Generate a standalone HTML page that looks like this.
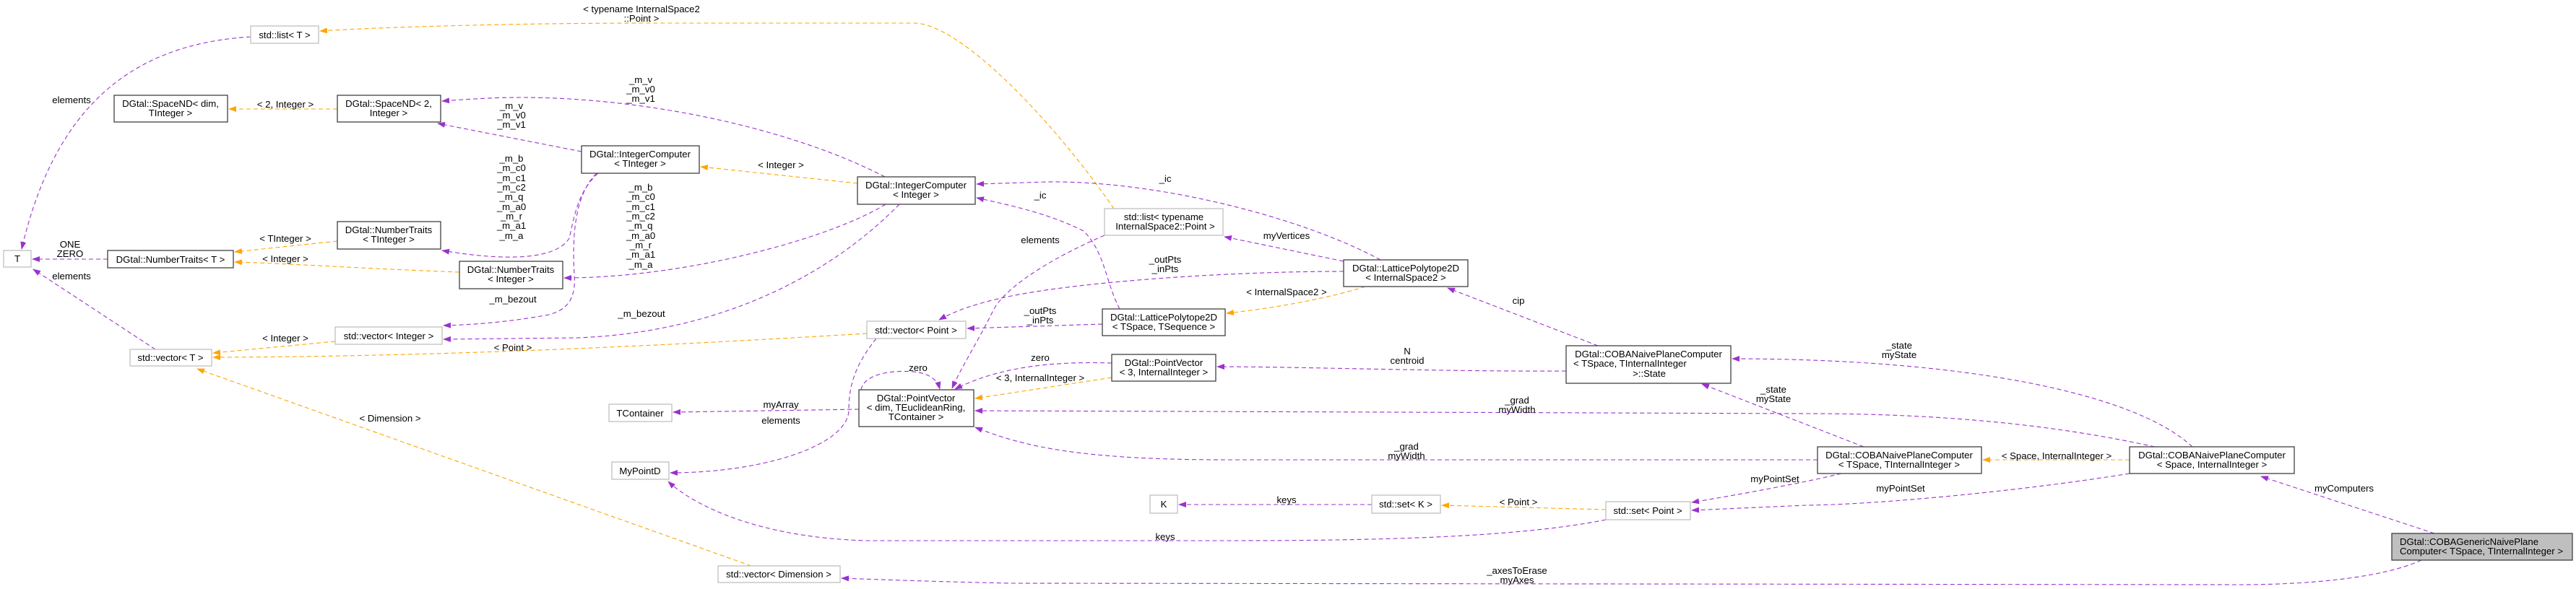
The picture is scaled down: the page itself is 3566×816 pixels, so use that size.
<!DOCTYPE html>
<html><head><meta charset="utf-8"><style>
html,body{margin:0;padding:0;background:#fff;}
svg{display:block;}
text{font-family:"Liberation Sans",Arial,sans-serif;font-size:13.2px;fill:#000;}
.nb{fill:#fff;stroke:#404040;stroke-width:1.3;}
.ng{fill:#fff;stroke:#bfbfbf;stroke-width:1.3;}
.p{fill:none;stroke:#9a32cd;stroke-width:1.1;stroke-dasharray:6,4;}
.o{fill:none;stroke:#ffa500;stroke-width:1.1;stroke-dasharray:6,4;}
</style></head><body>
<svg width="3566" height="816" viewBox="0 0 3566 816" xmlns="http://www.w3.org/2000/svg">
<defs>
<marker id="ap" markerWidth="11" markerHeight="8" refX="10" refY="4" orient="auto" markerUnits="userSpaceOnUse"><path d="M0,0 L11,4 L0,8 z" fill="#9a32cd"/></marker>
<marker id="ao" markerWidth="11" markerHeight="8" refX="10" refY="4" orient="auto" markerUnits="userSpaceOnUse"><path d="M0,0 L11,4 L0,8 z" fill="#ffa500"/></marker>
</defs>

<!-- orange edges -->
<g marker-end="url(#ao)">
<path class="o" d="M1542,289 C1460,170 1330,32 1265,32 L900,32 C700,32 520,38 443,43"/>
<path class="o" d="M467,151 L317,151"/>
<path class="o" d="M467,334 L325,349"/>
<path class="o" d="M636,377 C500,372 400,365 325,363"/>
<path class="o" d="M1187,254 L970,231"/>
<path class="o" d="M464,473 L295,489"/>
<path class="o" d="M1200,462 C900,480 600,494 295,495"/>
<path class="o" d="M1040,784 L273,511"/>
<path class="o" d="M1890,397 C1850,410 1780,425 1698,434"/>
<path class="o" d="M1539,523 L1350,552"/>
<path class="o" d="M2223,706 L1996,700"/>
<path class="o" d="M2948,637 L2745,637"/>
</g>

<!-- purple edges -->
<g marker-end="url(#ap)">
<path class="p" d="M347,51 C200,60 80,130 30,345"/>
<path class="p" d="M215,484 L46,373"/>
<path class="p" d="M149,359 L45,359"/>
<path class="p" d="M805,210 L606,171"/>
<path class="p" d="M1225,245 C1100,180 900,135 720,135 C680,135 640,138 612,140"/>
<path class="p" d="M828,240 C800,265 795,300 788,330 C770,360 700,362 612,347"/>
<path class="p" d="M1226,283 C1150,330 950,385 781,385"/>
<path class="p" d="M826,240 C795,270 792,330 795,380 C798,420 780,430 760,436 C700,447 650,450 614,451"/>
<path class="p" d="M1245,283 C1150,380 1000,460 800,468 L614,470"/>
<path class="p" d="M1529,326 C1450,360 1390,400 1375,430 C1350,480 1330,510 1318,538"/>
<path class="p" d="M1860,376 C1700,376 1500,390 1400,410 C1350,420 1320,432 1300,443"/>
<path class="p" d="M1526,449 L1339,455"/>
<path class="p" d="M1550,428 C1530,390 1530,350 1500,320 C1450,295 1400,285 1352,274"/>
<path class="p" d="M1911,360 C1800,300 1600,250 1450,252 L1352,255"/>
<path class="p" d="M1860,362 L1695,328"/>
<path class="p" d="M1213,469 C1180,510 1175,540 1175,570 C1170,620 1050,655 928,655"/>
<path class="p" d="M1189,567 L932,571"/>
<path class="p" d="M1192,540 C1195,520 1230,512 1265,515 C1290,518 1298,528 1301,539"/>
<path class="p" d="M1539,503 C1450,500 1380,510 1322,539"/>
<path class="p" d="M2168,514 C2000,515 1800,508 1685,508"/>
<path class="p" d="M2212,479 L2004,399"/>
<path class="p" d="M2580,619 L2356,532"/>
<path class="p" d="M3035,619 C2950,540 2700,497 2398,497"/>
<path class="p" d="M2983,619 C2850,590 2700,573 2500,573 L1350,569"/>
<path class="p" d="M2516,637 L1700,637 C1500,637 1420,620 1350,592"/>
<path class="p" d="M2549,656 C2500,668 2420,683 2342,696"/>
<path class="p" d="M2948,656 C2800,680 2600,699 2500,700 L2342,707"/>
<path class="p" d="M2223,720 C2100,745 1900,749 1700,749 L1200,749 C1050,745 960,700 925,667"/>
<path class="p" d="M1899,699 L1632,699"/>
<path class="p" d="M3370,739 L3130,660"/>
<path class="p" d="M3352,776 C3300,800 3200,810 3100,810 L1400,808 C1300,806 1220,803 1165,801"/>
</g>

<!-- edge labels -->
<g text-anchor="middle">
<text x="888" y="17">&lt; typename InternalSpace2</text><text x="888" y="30">::Point &gt;</text>
<text x="99" y="143">elements</text>
<text x="395" y="149">&lt; 2, Integer &gt;</text>
<text x="97" y="343">ONE</text><text x="97" y="356">ZERO</text>
<text x="99" y="387">elements</text>
<text x="395" y="335">&lt; TInteger &gt;</text>
<text x="395" y="363">&lt; Integer &gt;</text>
<text x="887" y="115">_m_v</text><text x="887" y="128">_m_v0</text><text x="887" y="141">_m_v1</text>
<text x="708" y="151">_m_v</text><text x="708" y="164">_m_v0</text><text x="708" y="177">_m_v1</text>
<text x="708" y="224">_m_b</text><text x="708" y="237">_m_c0</text><text x="708" y="251">_m_c1</text><text x="708" y="264">_m_c2</text><text x="708" y="277">_m_q</text><text x="708" y="291">_m_a0</text><text x="708" y="304">_m_r</text><text x="708" y="317">_m_a1</text><text x="708" y="331">_m_a</text>
<text x="887" y="264">_m_b</text><text x="887" y="277">_m_c0</text><text x="887" y="291">_m_c1</text><text x="887" y="304">_m_c2</text><text x="887" y="317">_m_q</text><text x="887" y="331">_m_a0</text><text x="887" y="344">_m_r</text><text x="887" y="357">_m_a1</text><text x="887" y="371">_m_a</text>
<text x="1081" y="233">&lt; Integer &gt;</text>
<text x="710" y="419">_m_bezout</text>
<text x="888" y="439">_m_bezout</text>
<text x="395" y="473">&lt; Integer &gt;</text>
<text x="710" y="486">&lt; Point &gt;</text>
<text x="540" y="584">&lt; Dimension &gt;</text>
<text x="1081" y="565">myArray</text>
<text x="1081" y="587">elements</text>
<text x="1613" y="252">_ic</text>
<text x="1440" y="275">_ic</text>
<text x="1440" y="337">elements</text>
<text x="1781" y="331">myVertices</text>
<text x="1613" y="364">_outPts</text><text x="1613" y="377">_inPts</text>
<text x="1781" y="409">&lt; InternalSpace2 &gt;</text>
<text x="1440" y="435">_outPts</text><text x="1440" y="448">_inPts</text>
<text x="1440" y="500">zero</text>
<text x="1271" y="514">zero</text>
<text x="1440" y="528">&lt; 3, InternalInteger &gt;</text>
<text x="1781" y="697">keys</text>
<text x="1613" y="748">keys</text>
<text x="2102" y="421">cip</text>
<text x="1948" y="491">N</text><text x="1948" y="504">centroid</text>
<text x="2100" y="559">_grad</text><text x="2100" y="572">myWidth</text>
<text x="2455" y="544">_state</text><text x="2455" y="557">myState</text>
<text x="1947" y="623">_grad</text><text x="1947" y="636">myWidth</text>
<text x="2102" y="700">&lt; Point &gt;</text>
<text x="2457" y="668">myPointSet</text>
<text x="2100" y="795">_axesToErase</text><text x="2100" y="808">myAxes</text>
<text x="2629" y="483">_state</text><text x="2629" y="496">myState</text>
<text x="2847" y="636">&lt; Space, InternalInteger &gt;</text>
<text x="2631" y="681">myPointSet</text>
<text x="3245" y="681">myComputers</text>
</g>

<!-- nodes -->
<g text-anchor="middle">
<rect class="ng" x="347" y="36" width="94" height="24"/><text x="394" y="53">std::list&lt; T &gt;</text>
<rect class="nb" x="158" y="132" width="157" height="37"/><text x="236" y="148">DGtal::SpaceND&lt; dim,</text><text x="236" y="161">TInteger &gt;</text>
<rect class="nb" x="467" y="132" width="143" height="37"/><text x="538" y="148">DGtal::SpaceND&lt; 2,</text><text x="538" y="161">Integer &gt;</text>
<rect class="nb" x="805" y="202" width="163" height="38"/><text x="886" y="218">DGtal::IntegerComputer</text><text x="886" y="231">&lt; TInteger &gt;</text>
<rect class="nb" x="467" y="307" width="143" height="38"/><text x="538" y="323">DGtal::NumberTraits</text><text x="538" y="336">&lt; TInteger &gt;</text>
<rect class="ng" x="5" y="347" width="38" height="23"/><text x="24" y="363">T</text>
<rect class="nb" x="149" y="347" width="174" height="24"/><text x="236" y="364">DGtal::NumberTraits&lt; T &gt;</text>
<rect class="nb" x="636" y="362" width="143" height="38"/><text x="707" y="378">DGtal::NumberTraits</text><text x="707" y="391">&lt; Integer &gt;</text>
<rect class="nb" x="1187" y="245" width="163" height="38"/><text x="1268" y="261">DGtal::IntegerComputer</text><text x="1268" y="274">&lt; Integer &gt;</text>
<rect class="ng" x="464" y="453" width="148" height="24"/><text x="538" y="470">std::vector&lt; Integer &gt;</text>
<rect class="ng" x="180" y="484" width="113" height="23"/><text x="236" y="500">std::vector&lt; T &gt;</text>
<rect class="ng" x="1200" y="445" width="137" height="24"/><text x="1268" y="462">std::vector&lt; Point &gt;</text>
<rect class="ng" x="843" y="560" width="87" height="24"/><text x="886" y="577">TContainer</text>
<rect class="ng" x="847" y="640" width="79" height="24"/><text x="886" y="657">MyPointD</text>
<rect class="nb" x="1189" y="540" width="159" height="51"/><text x="1268" y="556">DGtal::PointVector</text><text x="1268" y="569">&lt; dim, TEuclideanRing,</text><text x="1268" y="582">TContainer &gt;</text>
<rect class="ng" x="994" y="784" width="169" height="23"/><text x="1078" y="800">std::vector&lt; Dimension &gt;</text>
<rect class="ng" x="1529" y="289" width="164" height="37"/><text x="1611" y="305">std::list&lt; typename</text><text x="1613" y="318">InternalSpace2::Point &gt;</text>
<rect class="nb" x="1526" y="428" width="170" height="37"/><text x="1611" y="444">DGtal::LatticePolytope2D</text><text x="1611" y="457">&lt; TSpace, TSequence &gt;</text>
<rect class="nb" x="1539" y="491" width="144" height="37"/><text x="1611" y="507">DGtal::PointVector</text><text x="1611" y="520">&lt; 3, InternalInteger &gt;</text>
<rect class="ng" x="1592" y="686" width="38" height="25"/><text x="1611" y="703">K</text>
<rect class="nb" x="1860" y="360" width="172" height="37"/><text x="1946" y="376">DGtal::LatticePolytope2D</text><text x="1946" y="389">&lt; InternalSpace2 &gt;</text>
<rect class="nb" x="2168" y="479" width="228" height="52"/><text x="2282" y="495">DGtal::COBANaivePlaneComputer</text><text x="2178" y="508" text-anchor="start">&lt; TSpace, TInternalInteger</text><text x="2283" y="522">&gt;::State</text>
<rect class="ng" x="1899" y="686" width="95" height="25"/><text x="1946" y="703">std::set&lt; K &gt;</text>
<rect class="ng" x="2223" y="695" width="117" height="25"/><text x="2281" y="712">std::set&lt; Point &gt;</text>
<rect class="nb" x="2516" y="619" width="227" height="37"/><text x="2629" y="635">DGtal::COBANaivePlaneComputer</text><text x="2629" y="648">&lt; TSpace, TInternalInteger &gt;</text>
<rect class="nb" x="2948" y="619" width="228" height="37"/><text x="3062" y="635">DGtal::COBANaivePlaneComputer</text><text x="3062" y="648">&lt; Space, InternalInteger &gt;</text>
<rect x="3311" y="739" width="250" height="37" fill="#bfbfbf" stroke="#404040" stroke-width="1.3"/><text x="3322" y="755" text-anchor="start">DGtal::COBAGenericNaivePlane</text><text x="3322" y="768" text-anchor="start">Computer&lt; TSpace, TInternalInteger &gt;</text>
</g>
</svg>
</body></html>
